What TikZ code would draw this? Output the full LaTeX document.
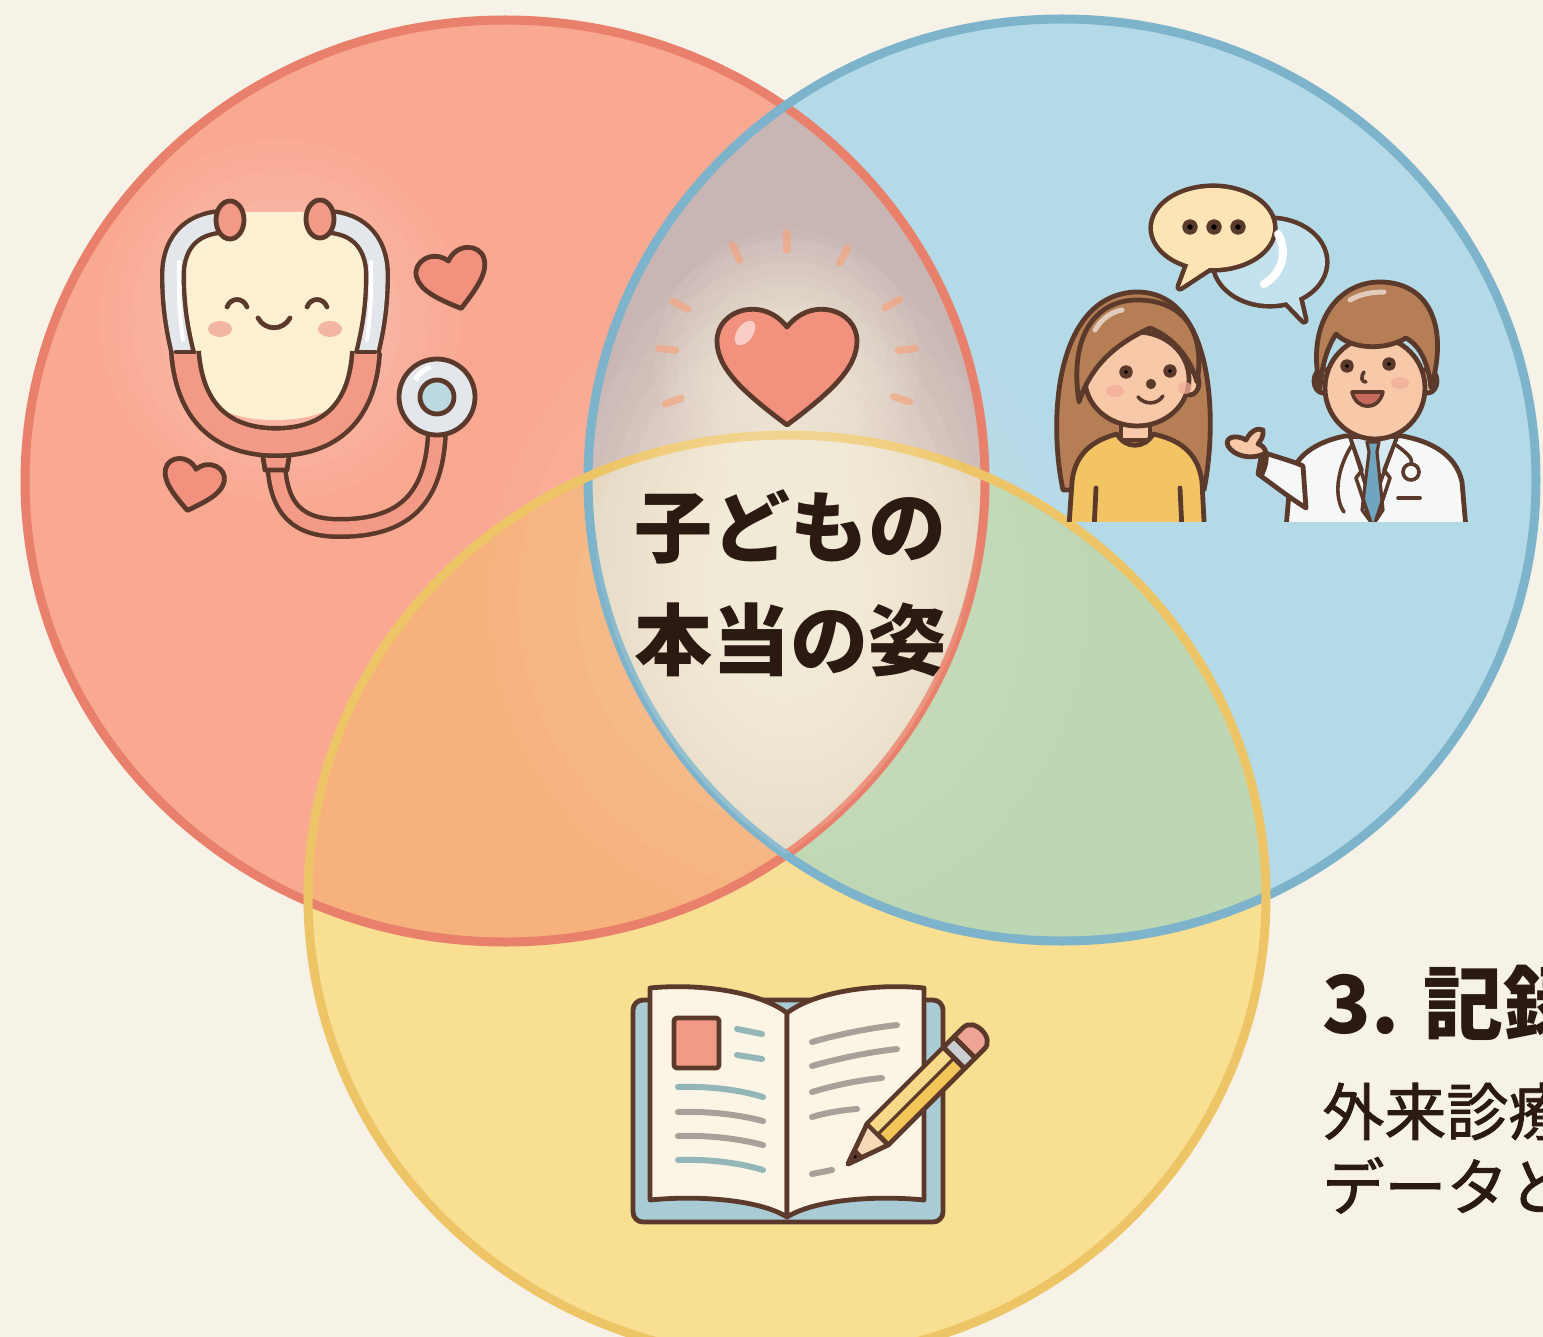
\documentclass[tikz,border=0pt]{standalone}
\usepackage{fontspec}
\newfontfamily\jp{Noto Sans CJK JP}
\newfontfamily\jpmed{Noto Sans CJK JP}[FakeBold=1.4]

\definecolor{paper}{HTML}{F6F2E7}
\definecolor{redfill}{HTML}{F9A892}
\definecolor{redline}{HTML}{E9806C}
\definecolor{bluefill}{HTML}{B4DAE8}
\definecolor{blueline}{HTML}{7DB4CC}
\definecolor{yelfill}{HTML}{F9DF92}
\definecolor{yelline}{HTML}{EEC566}
\definecolor{orangefill}{HTML}{F6B17D}
\definecolor{greenfill}{HTML}{BDD6B3}
\definecolor{mauvefill}{HTML}{C9B5B3}
\definecolor{corefill}{HTML}{E4D5C0}
\definecolor{glowcol}{HTML}{FFF8E4}
\definecolor{ink}{HTML}{5B3A2C}
\definecolor{txt}{HTML}{2A1A12}
\definecolor{coral}{HTML}{F3917F}
\definecolor{salmon}{HTML}{F29A85}
\definecolor{cream}{HTML}{FCF0D2}
\definecolor{steel}{HTML}{E3E6EA}
\definecolor{disc}{HTML}{BCD9E1}
\definecolor{blush}{HTML}{F2AC9A}
\definecolor{skin}{HTML}{F7C9A9}
\definecolor{hair}{HTML}{B57E55}
\definecolor{sweater}{HTML}{F2C463}
\definecolor{coat}{HTML}{F6F8F8}
\definecolor{shirt}{HTML}{D6E9F0}
\definecolor{tie}{HTML}{6FA5BF}
\definecolor{mouth}{HTML}{C66A5C}
\definecolor{bubble}{HTML}{FCE4B4}
\definecolor{bubbleb}{HTML}{C3E2EE}
\definecolor{cover}{HTML}{A9CBD6}
\definecolor{page}{HTML}{FCF4E4}
\definecolor{tealline}{HTML}{93B6B8}
\definecolor{grayline}{HTML}{A9A099}
\definecolor{pencilbody}{HTML}{F3C558}
\definecolor{pencillight}{HTML}{F8D987}
\definecolor{eraser}{HTML}{EFA595}
\definecolor{ferrule}{HTML}{C9CED3}
\definecolor{wood}{HTML}{F7D7B6}
\definecolor{raycol}{HTML}{F5A57F}

\tikzset{
  ink/.style={draw=ink, line width=2.4pt, line join=round, line cap=round},
  thinink/.style={draw=ink, line width=1.8pt, line join=round, line cap=round},
  pageline/.style={line width=3pt, line cap=round},
  rayline/.style={draw=raycol, line width=3.6pt, line cap=round, opacity=0.7},
  redE/.style={insert path={(505,481) ellipse (480 and 461)}},
  blueE/.style={insert path={(1062,480) ellipse (474 and 461)}},
  yelE/.style={insert path={(787,897) ellipse (479 and 462)}},
  heartshape/.pic={\path[pic actions] (0,0.9) .. controls (-0.6,0.45) and (-1,0.1) .. (-1,-0.3) .. controls (-1,-0.75) and (-0.35,-0.95) .. (0,-0.5) .. controls (0.35,-0.95) and (1,-0.75) .. (1,-0.3) .. controls (1,0.1) and (0.6,0.45) .. (0,0.9) -- cycle;},
  bigtitle/.style={text=txt, font=\jp\bfseries\fontsize{39pt}{44pt}\selectfont, inner sep=0pt},
  sidehead/.style={text=txt, font=\jp\bfseries\fontsize{40pt}{44pt}\selectfont, inner sep=0pt, anchor=base west},
  sidebody/.style={text=txt, font=\jpmed\fontsize{31pt}{36pt}\selectfont, inner sep=0pt, anchor=base west},
}

\begin{document}
\begin{tikzpicture}[x=0.5pt,y=-0.5pt]
\useasboundingbox (0,0) rectangle (1543,1337);
\clip (0,0) rectangle (1543,1337);
\fill[paper] (0,0) rectangle (1543,1337);

% ---------- the three sets ----------
\fill[redfill][redE];
\fill[bluefill][blueE];
\fill[yelfill][yelE];
\begin{scope}\clip[redE]; \fill[mauvefill][blueE]; \end{scope}
\begin{scope}\clip[redE]; \fill[orangefill][yelE]; \end{scope}
\begin{scope}\clip[blueE]; \fill[greenfill][yelE]; \end{scope}
\begin{scope}\clip[redE]; \clip[blueE]; \fill[corefill][yelE]; \end{scope}

% warm light spreading from the middle (stacked translucent layers)
\foreach \i in {1,...,10}
  \fill[glowcol, opacity=0.03] (787,600) ellipse ({30*\i} and {32*\i});
\begin{scope}
  \clip[redE]; \clip[blueE];
  \foreach \i in {1,...,14}
    \fill[glowcol, opacity=0.05] (787,560) ellipse ({15*\i} and {23*\i});
  \foreach \i in {1,...,12}
    \fill[glowcol, opacity=0.07] (787,362) circle ({11*\i});
\end{scope}

\draw[redline, line width=4.5pt][redE];
\draw[blueline, line width=4.5pt][blueE];
\draw[yelline, line width=4.5pt][yelE];

% the light softens the outlines inside the common lens
\begin{scope}
  \clip[redE]; \clip[blueE];
  \foreach \i in {1,...,12}
    \fill[glowcol, opacity=0.07] (787,590) ellipse ({16*\i} and {24*\i});
\end{scope}

% ---------- stethoscope ----------
\foreach \i in {1,...,12}
  \fill[white, opacity=0.035] (280,320) circle ({15*\i});
\fill[cream] (200,212) -- (350,212) .. controls (372,230) and (372,300) .. (368,350) .. controls (360,405) and (320,420) .. (275,420) .. controls (230,420) and (190,405) .. (182,350) .. controls (178,300) and (178,230) .. (200,212) -- cycle;
% lower tube
\draw[ink, line width=11pt] (276,455) .. controls (276,512) and (300,528) .. (340,528) .. controls (405,528) and (435,498) .. (437,430);
\draw[salmon, line width=6.5pt] (276,455) .. controls (276,512) and (300,528) .. (340,528) .. controls (405,528) and (435,498) .. (437,430);
% ear tubes
\foreach \s in {1,-1}{
  \draw[ink, line width=13pt, line cap=butt] (275-45*\s,222) .. controls (275-80*\s,220) and (275-102*\s,240) .. (275-102*\s,275) .. controls (275-102*\s,310) and (275-97*\s,335) .. (275-90*\s,362);
  \draw[steel, line width=8.6pt, line cap=butt] (275-45*\s,222) .. controls (275-80*\s,220) and (275-102*\s,240) .. (275-102*\s,275) .. controls (275-102*\s,310) and (275-97*\s,335) .. (275-90*\s,362);
  \draw[white, line width=2pt, line cap=round] (275-96*\s,262) .. controls (275-97*\s,290) and (275-95*\s,320) .. (275-92*\s,340);
}
% Y piece and yoke
\filldraw[ink, fill=salmon] (259,432) -- (293,432) -- (287,470) -- (265,470) -- cycle;
\draw[ink, line width=16pt, line cap=butt] (185,352) .. controls (190,420) and (230,442) .. (276,442) .. controls (322,442) and (362,420) .. (366,352);
\draw[salmon, line width=11.4pt, line cap=butt] (185,352) .. controls (190,420) and (230,442) .. (276,442) .. controls (322,442) and (362,420) .. (366,352);
\draw[ink] (176,352) -- (194,352);
\draw[ink] (357,352) -- (375,352);
% chest piece
\filldraw[ink, fill=steel] (437,397) circle (38);
\draw[white, line width=2.5pt] (415,380) arc (210:250:30);
\filldraw[ink, fill=disc] (437,397) circle (17);
% ear knobs
\filldraw[ink, fill=salmon] (230,220) ellipse (14 and 19);
\filldraw[ink, fill=salmon] (320,219) ellipse (14 and 19);
% face
\draw[ink] (227,307) .. controls (231,297) and (243,297) .. (247,307);
\draw[ink] (307,307) .. controls (311,297) and (323,297) .. (327,307);
\draw[ink] (258,318) .. controls (265,331) and (283,331) .. (290,318);
\fill[blush, opacity=0.85] (220,329) ellipse (12 and 8);
\fill[blush, opacity=0.85] (330,329) ellipse (12 and 8);
% little hearts
\pic[ink, fill=coral, scale=35, rotate=15] at (453,278) {heartshape};
\pic[ink, fill=coral, scale=30, rotate=-12] at (193,484) {heartshape};

% ---------- heart at the centre ----------
\foreach \a in {161,186,208,245,270,298,331,354,18}
  \draw[rayline] (787,362) ++(\a:112) -- ++(\a:17);
\pic[ink, fill=coral, scale=70] at (787,362) {heartshape};
\fill[white, opacity=0.55, rotate around={-35:(745,333)}] (745,333) ellipse (8 and 14);

\node[bigtitle] (title1) at (790,527) {子どもの};
\node[bigtitle] (title2) at (790,640) {本当の姿};

% ---------- talking people ----------
% back bubble
\draw[ink, line width=4.6pt] (1270,262) ellipse (55 and 42);
\draw[ink, line width=4.6pt] (1280,295) -- (1304,320) -- (1297,290);
\fill[bubbleb] (1270,262) ellipse (55 and 42);
\fill[bubbleb] (1280,295) -- (1304,320) -- (1297,290) -- cycle;
% front bubble
\draw[ink, line width=4.6pt] (1213,228) ellipse (60 and 40);
\draw[ink, line width=4.6pt] (1190,260) -- (1180,287) -- (1212,266);
\draw[white, line width=4pt, line cap=round] (1278,234) .. controls (1287,250) and (1284,272) .. (1264,284);
\fill[bubble] (1213,228) ellipse (60 and 40);
\fill[bubble] (1190,260) -- (1180,287) -- (1212,266) -- cycle;
\foreach \x in {1190,1214,1238} \fill[ink] (\x,227) circle (5.5);

\begin{scope}
  \clip (1030,150) rectangle (1490,521);
  % woman
  \filldraw[ink, fill=hair] (1063,490) .. controls (1048,420) and (1055,296) .. (1135,292) .. controls (1214,290) and (1218,420) .. (1204,490) -- cycle;
  \filldraw[ink, fill=skin] (1121,405) -- (1121,440) -- (1150,440) -- (1150,405) -- cycle;
  \filldraw[ink, fill=sweater] (1068,540) -- (1072,482) .. controls (1075,450) and (1098,439) .. (1117,434) .. controls (1125,449) and (1145,449) .. (1153,434) .. controls (1176,439) and (1198,450) .. (1202,482) -- (1205,540) -- cycle;
  \draw[ink] (1096,488) -- (1094,530);
  \draw[ink] (1180,488) -- (1182,530);
  \filldraw[ink, fill=skin] (1190,383) ellipse (9 and 12);
  \filldraw[ink, fill=skin] (1137,379) ellipse (52 and 47);
  \filldraw[ink, fill=hair] (1079,402) .. controls (1068,330) and (1100,300) .. (1137,300) .. controls (1182,300) and (1206,330) .. (1197,382) .. controls (1189,354) and (1170,336) .. (1150,328) .. controls (1120,342) and (1092,362) .. (1079,402) -- cycle;
  \draw[white, opacity=0.6, line width=2.5pt, line cap=round] (1095,330) .. controls (1102,318) and (1112,312) .. (1122,310);
  \fill[ink] (1126,372) circle (4.5);
  \fill[ink] (1170,371) circle (4.5);
  \fill[ink] (1151,384) circle (2.6);
  \draw[thinink] (1138,397) .. controls (1145,405) and (1157,405) .. (1163,396);
  \fill[blush, opacity=0.75] (1115,391) ellipse (9 and 6);
  \fill[blush, opacity=0.75] (1185,388) ellipse (7 and 6);
  % doctor
  \filldraw[ink, fill=skin] (1357,415) rectangle (1392,445);
  \filldraw[ink, fill=coat] (1285,540) -- (1290,482) .. controls (1293,454) and (1320,441) .. (1345,436) -- (1402,436) .. controls (1430,441) and (1456,454) .. (1462,482) -- (1467,540) -- cycle;
  \filldraw[ink, fill=shirt, line width=1.8pt] (1350,437) -- (1372,505) -- (1397,437) -- cycle;
  \filldraw[ink, fill=tie, line width=1.6pt] (1367,442) -- (1379,442) -- (1377,452) -- (1383,510) -- (1373,525) -- (1362,510) -- (1369,452) -- cycle;
  \draw[thinink] (1350,437) -- (1362,470) -- (1356,478) -- (1370,520);
  \draw[thinink] (1397,437) -- (1384,470) -- (1390,478) -- (1376,520);
  \draw[thinink] (1352,445) .. controls (1336,470) and (1334,498) .. (1344,512);
  \draw[thinink] (1396,445) .. controls (1410,455) and (1413,460) .. (1411,464);
  \filldraw[thinink, fill=coat] (1411,472) circle (8);
  \draw[thinink] (1398,498) -- (1420,498);
  \filldraw[ink, fill=coat] (1262,452) .. controls (1280,458) and (1295,462) .. (1303,466) -- (1306,508) .. controls (1290,498) and (1272,484) .. (1258,474) -- cycle;
  \filldraw[ink, fill=skin] (1264,454) .. controls (1250,460) and (1234,456) .. (1228,446) .. controls (1224,437) and (1236,434) .. (1246,440) .. controls (1250,432) and (1257,427) .. (1263,430) .. controls (1264,437) and (1260,441) .. (1258,444) .. controls (1266,446) and (1270,456) .. (1262,474) -- cycle;
  \filldraw[ink, fill=skin] (1323,381) ellipse (9 and 12);
  \filldraw[ink, fill=skin] (1428,381) ellipse (9 and 12);
  \filldraw[ink, fill=skin] (1375,388) ellipse (50 and 51);
  \filldraw[ink, fill=hair] (1320,388) .. controls (1305,320) and (1340,282) .. (1380,282) .. controls (1426,282) and (1450,322) .. (1431,388) .. controls (1428,362) and (1420,346) .. (1406,338) .. controls (1382,352) and (1350,348) .. (1336,334) .. controls (1326,350) and (1322,366) .. (1320,388) -- cycle;
  \draw[white, opacity=0.6, line width=2.5pt, line cap=round] (1350,300) .. controls (1360,294) and (1372,292) .. (1384,292);
  \fill[ink] (1347,366) circle (4.5);
  \fill[ink] (1389,364) circle (4.5);
  \draw[thinink] (1364,372) .. controls (1360,378) and (1362,382) .. (1366,382);
  \filldraw[thinink, fill=mouth] (1352,392) .. controls (1356,410) and (1378,412) .. (1383,392) -- cycle;
  \fill[blush, opacity=0.75] (1400,383) ellipse (9 and 6);
\end{scope}

% ---------- notebook ----------
\filldraw[ink, fill=cover, rounded corners=5pt] (633,1000) rectangle (943,1222);
\filldraw[ink, fill=page] (650,988) .. controls (700,983) and (760,992) .. (787,1013) -- (787,1217) .. controls (760,1200) and (700,1195) .. (650,1200) -- cycle;
\filldraw[ink, fill=page] (924,988) .. controls (874,983) and (814,992) .. (787,1013) -- (787,1217) .. controls (814,1200) and (874,1195) .. (924,1200) -- cycle;
\filldraw[ink, fill=salmon, rounded corners=1.5pt] (674,1018) rectangle (719,1068);
\draw[pageline, tealline] (737,1029) -- (762,1034);
\draw[pageline, tealline] (737,1055) -- (762,1059);
\draw[pageline, tealline] (678,1087) .. controls (710,1086) and (740,1090) .. (763,1097);
\draw[pageline, grayline] (678,1112) .. controls (710,1111) and (740,1115) .. (763,1121);
\draw[pageline, grayline] (678,1136) .. controls (710,1135) and (740,1139) .. (763,1145);
\draw[pageline, tealline] (678,1160) .. controls (710,1159) and (740,1163) .. (763,1170);
\draw[pageline, grayline] (812,1042) .. controls (840,1034) and (870,1028) .. (897,1025);
\draw[pageline, grayline] (812,1066) .. controls (840,1058) and (870,1052) .. (897,1049);
\draw[pageline, grayline] (812,1092) .. controls (835,1085) and (860,1080) .. (882,1078);
\draw[pageline, grayline] (812,1117) .. controls (825,1113) and (842,1110) .. (857,1109);
\draw[pageline, grayline] (812,1174) -- (832,1170);
% pencil
\begin{scope}[shift={(848,1164)}, rotate=45]
  \filldraw[ink, fill=wood] (0,0) -- (42,-15) -- (42,15) -- cycle;
  \fill[ink] (0,0) -- (14,-5) -- (14,5) -- cycle;
  \filldraw[ink, fill=pencilbody] (42,-15) rectangle (150,15);
  \fill[pencillight] (44,-13) rectangle (148,-1);
  \draw[ink, line width=1.6pt] (42,0) -- (150,0);
  \filldraw[ink, fill=ferrule] (150,-15) rectangle (165,15);
  \filldraw[ink, fill=eraser] (165,-15) -- (178,-15) .. controls (193,-15) and (193,15) .. (178,15) -- (165,15) -- cycle;
\end{scope}

% ---------- side caption ----------
\node[sidehead] (head) at (1322,1033) {3. 記録};
\node[sidebody] (body1) at (1322,1135) {外来診療};
\node[sidebody] (body2) at (1322,1210) {データと};
\end{tikzpicture}
\end{document}
